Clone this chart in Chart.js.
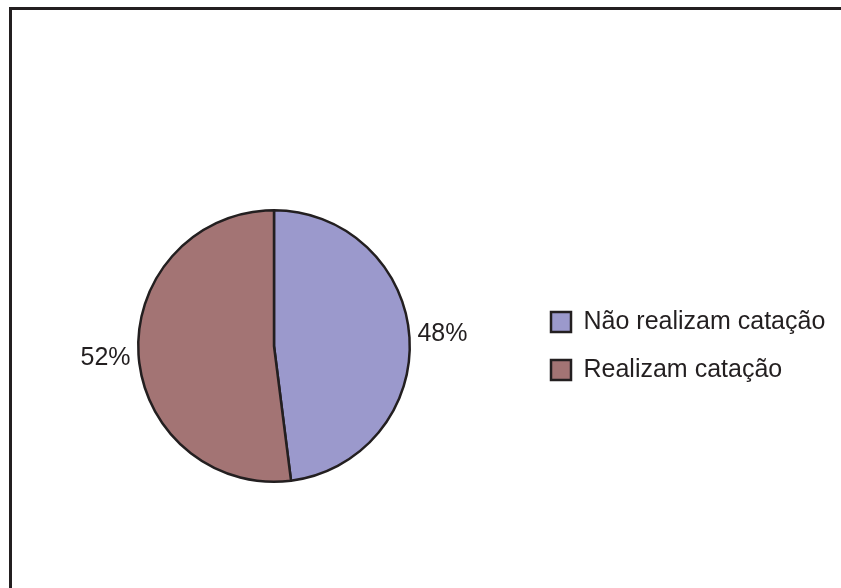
<!DOCTYPE html>
<html>
<head>
<meta charset="utf-8">
<script src="https://cdn.jsdelivr.net/npm/chart.js@4.4.0/dist/chart.umd.min.js"></script>
<style>
	html, body { margin: 0; padding: 0; background: #fff; }
	#wrap { position: relative; width: 841px; height: 588px; overflow: hidden; }
	#frame { position: absolute; left: 9px; top: 7px; width: 900px; height: 700px;
		border-top: 3px solid #231f20; border-left: 3px solid #231f20; }
	canvas { position: absolute; left: 0; top: 0; }
</style>
</head>
<body>
<div id="wrap">
	<div id="frame"></div>
	<canvas id="myChart" width="841" height="588"></canvas>
</div>
<script>
var categories = ["Não realizam catação", "Realizam catação"];
var percents = [48, 52];
var sliceColors = ['#9b99cc', '#a37474'];

var fontFamily = "'Liberation Sans', Arial, sans-serif";
var legendFontSize = 25;
var legendPadding = 23;
var legendBox = 20;

// work out how wide the legend will be so the pie sits where it should
var mctx = document.createElement('canvas').getContext('2d');
mctx.font = legendFontSize + "px " + fontFamily;
var textW = 0;
categories.forEach(function (c) { textW = Math.max(textW, mctx.measureText(c).width) });
var legendW = legendPadding + legendBox + legendFontSize / 2 + textW + 10;
var padRight = Math.max(841 - 528 - legendW, 0);

// percent labels just outside each slice
var pctLabels = {
	id: 'pctLabels',
	afterDatasetsDraw: function (chart) {
		var ctx = chart.ctx;
		var meta = chart.getDatasetMeta(0);
		ctx.save();
		ctx.font = "25px " + fontFamily;
		ctx.fillStyle = '#231f20';
		ctx.textBaseline = 'middle';
		meta.data.forEach(function (arc, i) {
			var mid = (arc.startAngle + arc.endAngle) / 2;
			var d = arc.outerRadius + 8;
			var right = Math.cos(mid) >= 0;
			var x = arc.x + Math.cos(mid) * d;
			var y = arc.y + Math.sin(mid) * d;
			ctx.textAlign = right ? 'left' : 'right';
			ctx.fillText(percents[i] + '%', x, right ? y - 3 : y + 3);
		});
		ctx.restore();
	}
};

var myChart = new Chart(document.getElementById("myChart"), {
	type: 'pie',
	data: {
		labels: categories,
		datasets: [{
			data: percents,
			backgroundColor: sliceColors,
			borderColor: '#231f20',
			borderWidth: 2.5
		}]
	},
	options: {
		responsive: false,
		animation: false,
		layout: {
			padding: { left: 20, right: padRight, top: 209, bottom: 105 }
		},
		plugins: {
			legend: {
				display: true,
				position: 'right',
				align: 'center',
				labels: {
					boxWidth: legendBox,
					boxHeight: legendBox,
					padding: legendPadding,
					color: '#231f20',
					font: { family: fontFamily, size: legendFontSize }
				}
			},
			tooltip: { enabled: false }
		}
	},
	plugins: [pctLabels]
});
</script>
</body>
</html>
